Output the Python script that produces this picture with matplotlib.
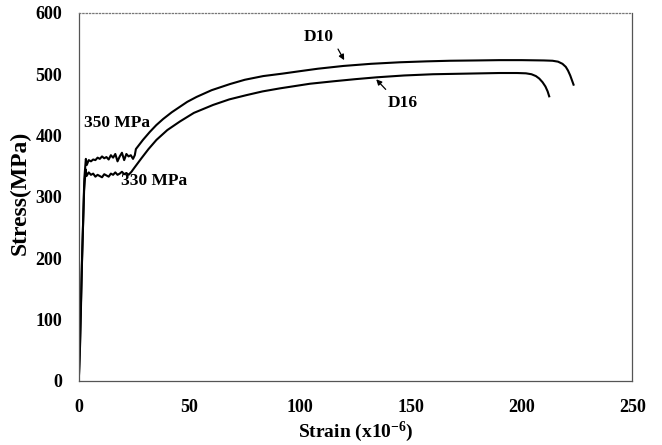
import matplotlib
matplotlib.use("Agg")
import matplotlib.pyplot as plt

plt.rcParams['font.family'] = ['Liberation Serif', 'DejaVu Serif']
plt.rcParams['font.weight'] = 'bold'
plt.rcParams['mathtext.fontset'] = 'custom'
plt.rcParams['mathtext.rm'] = 'Liberation Serif:bold'
plt.rcParams['mathtext.bf'] = 'Liberation Serif:bold'
plt.rcParams['mathtext.default'] = 'bf'

d10_strain = [0, 0.6, 1.5, 2.5, 3.2, 3.6, 4.5, 5.5, 6.5, 7.5, 8.5, 9.5, 10.5, 11.5, 12.5, 13.5,
              14.5, 15.5, 16.5, 17.5, 18.5, 19.5, 20.5, 21.5, 22.5, 23.5, 24.5, 25.3, 25.8,
              29, 32.1, 35, 38.1, 42, 45.7, 49, 53.2, 60, 68.3, 75, 83.3, 92, 99.9, 108,
              119.5, 132, 145, 157, 167.7, 180, 190, 200, 210, 214, 216.5, 218.5, 220,
              221, 222, 222.8, 223.5]
d10_stress = [0, 60, 200, 330, 362, 352, 360, 358, 361, 360, 364, 362, 366, 363, 365, 361,
              368, 364, 370, 358, 366, 372, 360, 370, 366, 368, 362, 368, 378,
              393, 406, 417, 427, 438, 447, 455, 463, 474, 484, 491, 497, 501, 505, 509,
              513.5, 517, 519.5, 521, 522, 522.5, 523, 523, 522.5, 522, 520.5, 517, 512,
              506, 498, 490, 483]

d16_strain = [0, 0.5, 1.4, 2.4, 3.1, 3.5, 4.5, 5.5, 6.5, 7.5, 8.5, 9.5, 10.5, 11.5, 12.5,
              13.5, 14.5, 15.5, 16.5, 17.5, 18.5, 19.5, 20.5, 21.5, 22.5, 23.8, 25,
              28.3, 31.5, 35.1, 40, 45.7, 52, 60.7, 68, 75.8, 83, 90.9, 99.9, 104.4, 115,
              125, 134.6, 147, 160, 175, 190, 198, 202, 204.5, 206.5, 208, 209.5, 210.8,
              211.8, 212.5]
d16_stress = [0, 55, 190, 310, 345, 334, 340, 336, 338, 333, 336, 334, 332, 337, 335,
              333, 338, 336, 340, 336, 338, 341, 337, 339, 336, 341, 347,
              363, 378, 393, 409, 423, 437, 450, 459, 466, 472, 477, 482, 484.5, 488.5,
              492, 495, 498, 500, 501, 502, 502, 501.5, 500, 497, 493, 487, 480,
              472, 464]

x_ticks = [0, 50, 100, 150, 200, 250]
y_ticks = [0, 100, 200, 300, 400, 500, 600]

fig = plt.figure(figsize=(6.62, 4.45), dpi=100)
ax = fig.add_axes([0.119, 0.144, 0.836, 0.827])

ax.plot(d10_strain, d10_stress, color='black', lw=1.5, solid_joinstyle='round')
ax.plot(d16_strain, d16_stress, color='black', lw=1.5, solid_joinstyle='round')

ax.set_xlim(0, 250)
ax.set_ylim(0, 600)
ax.set_xticks(x_ticks)
ax.set_yticks(y_ticks)
ax.tick_params(length=0, labelsize=13)
ax.tick_params(axis='x', pad=13)
ax.tick_params(axis='y', pad=12)
for lbl in ax.get_xticklabels() + ax.get_yticklabels():
    lbl.set_fontweight('bold')

for side, sp in ax.spines.items():
    sp.set_color('#555555')
    sp.set_linewidth(0.9)
ax.spines['top'].set_linestyle(':')
ax.spines['top'].set_color('#777777')

ax.set_xlabel('Strain (x10$^{-6}$)', fontsize=14, fontweight='bold', labelpad=3)
ax.set_ylabel('Stress(MPa)', fontsize=17, fontweight='bold', labelpad=5)
ax.yaxis.set_label_coords(-0.087, 0.51)

ax.text(17.3, 421, '350 MPa', fontsize=12.5, fontweight='bold', ha='center', va='center')
ax.text(34, 326, '330 MPa', fontsize=12.5, fontweight='bold', ha='center', va='center')
ax.text(108.5, 561, 'D10', fontsize=12.5, fontweight='bold', ha='center', va='center')
ax.text(146.5, 453, 'D16', fontsize=12.5, fontweight='bold', ha='center', va='center')

ax.annotate('', xy=(120.5, 519), xytext=(116.5, 545),
            arrowprops=dict(arrowstyle='-|>', color='black', lw=0.9, mutation_scale=8))
ax.annotate('', xy=(133.5, 495), xytext=(139.5, 472),
            arrowprops=dict(arrowstyle='-|>', color='black', lw=0.9, mutation_scale=8))

fig.savefig('out.png', dpi=100)
